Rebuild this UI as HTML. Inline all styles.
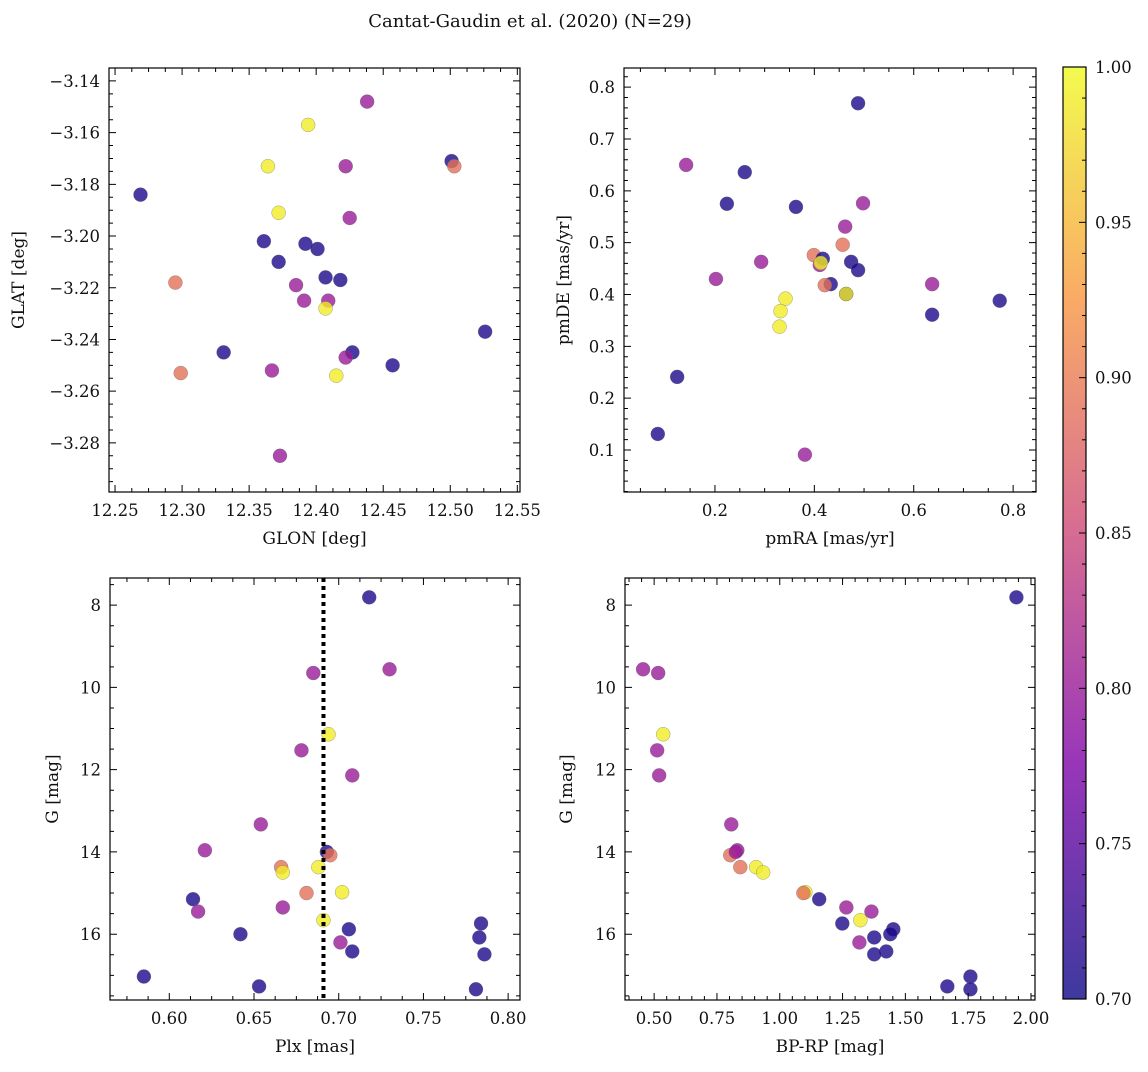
<!DOCTYPE html>
<html><head><meta charset="utf-8"><style>
body{margin:0;background:#fff}
svg text{font-family:"DejaVu Serif","Liberation Serif",serif;fill:#111}
</style></head><body>
<svg id="fig" width="1148" height="1067" xmlns="http://www.w3.org/2000/svg">
<defs>
<linearGradient id="cbg" x1="0" y1="1" x2="0" y2="0">
<stop offset="0" stop-color="#0d0887"/><stop offset="0.25" stop-color="#7e03a8"/><stop offset="0.5" stop-color="#cc4778"/><stop offset="0.75" stop-color="#f89540"/><stop offset="1" stop-color="#f0f921"/>
</linearGradient>
</defs>
<text x="530" y="27" font-size="18" text-anchor="middle">Cantat-Gaudin et al. (2020) (N=29)</text>
</svg>
<script>
// Panel 1: GLON vs GLAT
const p1x=[12.269,12.364,12.394,12.438,12.372,12.422,12.425,12.501,12.503,12.361,12.372,12.392,12.401,12.407,12.418,12.295,12.385,12.391,12.409,12.407,12.526,12.331,12.427,12.422,12.457,12.299,12.367,12.415,12.373];
const p1y=[-3.184,-3.173,-3.157,-3.148,-3.191,-3.173,-3.193,-3.171,-3.173,-3.202,-3.210,-3.203,-3.205,-3.216,-3.217,-3.218,-3.219,-3.225,-3.225,-3.228,-3.237,-3.245,-3.245,-3.247,-3.250,-3.253,-3.252,-3.254,-3.285];
const p1c=[0.71,0.99,0.99,0.80,0.99,0.80,0.80,0.71,0.89,0.71,0.71,0.71,0.71,0.71,0.71,0.89,0.80,0.80,0.80,0.99,0.71,0.71,0.71,0.80,0.71,0.89,0.80,0.99,0.80];
// Panel 2: pmRA vs pmDE
const p2x=[0.142,0.488,0.260,0.224,0.363,0.498,0.462,0.399,0.457,0.411,0.417,0.413,0.293,0.474,0.488,0.202,0.433,0.421,0.464,0.464,0.637,0.773,0.342,0.332,0.330,0.637,0.124,0.085,0.381];
const p2y=[0.650,0.769,0.636,0.575,0.569,0.576,0.531,0.476,0.496,0.457,0.469,0.461,0.463,0.463,0.447,0.430,0.420,0.418,0.401,0.401,0.420,0.388,0.392,0.368,0.338,0.361,0.241,0.131,0.091];
const p2c=[0.80,0.71,0.71,0.71,0.71,0.80,0.80,0.89,0.89,0.80,0.71,0.99,0.80,0.71,0.71,0.80,0.71,0.89,0.71,0.99,0.80,0.71,0.99,0.99,0.99,0.71,0.71,0.71,0.80];
// Panel 3: Plx vs G
const p3x=[0.718,0.730,0.685,0.694,0.678,0.708,0.654,0.621,0.693,0.695,0.688,0.666,0.667,0.702,0.681,0.614,0.667,0.617,0.691,0.784,0.706,0.642,0.783,0.701,0.708,0.786,0.585,0.653,0.781];
const p3y=[7.81,9.56,9.65,11.14,11.53,12.14,13.33,13.96,14.0,14.08,14.37,14.37,14.50,14.98,15.00,15.15,15.35,15.45,15.66,15.74,15.88,16.0,16.08,16.20,16.42,16.49,17.03,17.27,17.34];
const p3c=[0.71,0.80,0.80,0.99,0.80,0.80,0.80,0.80,0.71,0.89,0.99,0.89,0.99,0.99,0.89,0.71,0.80,0.80,0.99,0.71,0.71,0.71,0.71,0.80,0.71,0.71,0.71,0.71,0.71];
const plxLine=0.691;
// Panel 4: BP-RP vs G
const p4x=[1.942,0.456,0.516,0.536,0.512,0.520,0.807,0.831,0.803,0.825,0.906,0.843,0.934,1.102,1.094,1.157,1.265,1.365,1.321,1.249,1.452,1.44,1.376,1.317,1.424,1.376,1.759,1.667,1.759];
const p4y=[7.81,9.56,9.65,11.14,11.53,12.14,13.33,13.96,14.08,14.0,14.37,14.37,14.50,14.98,15.00,15.15,15.35,15.45,15.66,15.74,15.88,16.0,16.08,16.20,16.42,16.49,17.03,17.27,17.34];
const p4c=[0.71,0.80,0.80,0.99,0.80,0.80,0.80,0.80,0.89,0.80,0.99,0.89,0.99,0.99,0.89,0.71,0.80,0.80,0.99,0.71,0.71,0.71,0.71,0.80,0.71,0.71,0.71,0.71,0.71];
const cbTicks=[0.70,0.75,0.80,0.85,0.90,0.95,1.00];

const NS='http://www.w3.org/2000/svg';
const svg=document.getElementById('fig');
function mk(t,a,parent){const e=document.createElementNS(NS,t);for(const k in a)e.setAttribute(k,a[k]);(parent||svg).appendChild(e);return e;}
const stops=[[0,[13,8,135]],[0.25,[126,3,168]],[0.5,[204,71,120]],[0.75,[248,149,64]],[1,[240,249,33]]];
function plasma(v){let t=(v-0.7)/0.3;t=Math.max(0,Math.min(1,t));for(let i=0;i<4;i++){const a=stops[i],b=stops[i+1];if(t<=b[0]){const f=(t-a[0])/(b[0]-a[0]);return 'rgb('+a[1].map((c,j)=>Math.round(c+(b[1][j]-c)*f)).join(',')+')';}}return 'rgb(240,249,33)';}

function panel(o){
  const g=mk('g',{});
  
  
  const sx=v=>o.L+(v-o.x0)/(o.x1-o.x0)*(o.R-o.L);
  const sy=v=>o.B-(v-o.y0)/(o.y1-o.y0)*(o.B-o.T);
  for(let i=0;i<o.xs.length;i++){
    const c=mk('circle',{cx:sx(o.xs[i]),cy:sy(o.ys[i]),r:7,fill:plasma(o.cs[i]),'fill-opacity':0.8,stroke:'#666','stroke-width':0.5,'stroke-opacity':0.6},g);
    
    
  }
  if(o.vline!==undefined){
    const l=mk('line',{x1:sx(o.vline),x2:sx(o.vline),y1:o.T,y2:o.B,stroke:'#000','stroke-width':4,'stroke-dasharray':'4,4'},g);
    
    
  }
  const top=Math.min(o.T,o.B),bot=Math.max(o.T,o.B);
  const f=mk('rect',{x:o.L,y:top,width:o.R-o.L,height:bot-top,fill:'none',stroke:'#000','stroke-width':1.2},g);
  
  
  const xlo=Math.min(o.x0,o.x1),xhi=Math.max(o.x0,o.x1);
  for(let k=Math.ceil(xlo/o.xmin-1e-6);k*o.xmin<=xhi+1e-9;k++){
    const v=k*o.xmin,x=sx(v);const maj=Math.abs(v/o.xmaj-Math.round(v/o.xmaj))<1e-6;const len=maj?7:4;
    mk('path',{d:`M${x},${bot}v${-len}M${x},${top}v${len}`,stroke:'#000','stroke-width':1},g);
    if(maj){const t=mk('text',{x:x,y:bot+24,'font-size':16.5,'text-anchor':'middle'},g);t.textContent=v.toFixed(o.xd);
      }
  }
  const ylo=Math.min(o.y0,o.y1),yhi=Math.max(o.y0,o.y1);
  for(let k=Math.ceil(ylo/o.ymin-1e-6);k*o.ymin<=yhi+1e-9;k++){
    const v=k*o.ymin,y=sy(v);const maj=Math.abs(v/o.ymaj-Math.round(v/o.ymaj))<1e-6;const len=maj?7:4;
    mk('path',{d:`M${o.L},${y}h${len}M${o.R},${y}h${-len}`,stroke:'#000','stroke-width':1},g);
    if(maj){const t=mk('text',{x:o.L-9,y:y+6,'font-size':16.5,'text-anchor':'end'},g);t.textContent=(v<0?'\u2212':'')+Math.abs(v).toFixed(o.yd);
      }
  }
  const xl=mk('text',{x:(o.L+o.R)/2,y:bot+52,'font-size':17,'text-anchor':'middle'},g);xl.textContent=o.xlab;
  
  const cy=(top+bot)/2;
  const yl=mk('text',{x:o.ylx,y:cy,'font-size':17,'text-anchor':'middle',transform:`rotate(-90 ${o.ylx} ${cy})`},g);yl.textContent=o.ylab;
  
}
panel({name:'glon-glat-panel',L:109,R:520,T:68,B:492,x0:12.2455,x1:12.552,y0:-3.299,y1:-3.135,xs:p1x,ys:p1y,cs:p1c,xmaj:0.05,xmin:0.0125,ymaj:0.02,ymin:0.005,xd:2,yd:2,xlab:'GLON [deg]',ylab:'GLAT [deg]',ylx:24});
panel({name:'pmra-pmde-panel',L:624,R:1036,T:68,B:492,x0:0.017,x1:0.846,y0:0.019,y1:0.837,xs:p2x,ys:p2y,cs:p2c,xmaj:0.2,xmin:0.05,ymaj:0.1,ymin:0.02,xd:1,yd:1,xlab:'pmRA [mas/yr]',ylab:'pmDE [mas/yr]',ylx:569});
panel({name:'plx-g-panel',L:110,R:520,T:578,B:1000,x0:0.565,x1:0.807,y0:17.6,y1:7.34,xs:p3x,ys:p3y,cs:p3c,xmaj:0.05,xmin:0.0125,ymaj:2,ymin:0.5,xd:2,yd:0,xlab:'Plx [mas]',ylab:'G [mag]',ylx:58,vline:plxLine});
panel({name:'bprp-g-panel',L:625,R:1035,T:578,B:1000,x0:0.384,x1:2.016,y0:17.6,y1:7.34,xs:p4x,ys:p4y,cs:p4c,xmaj:0.25,xmin:0.05,ymaj:2,ymin:0.5,xd:2,yd:0,xlab:'BP-RP [mag]',ylab:'G [mag]',ylx:572});

const cb=mk('g',{});


const cT=67,cB=999,cL=1063,cR=1086;
mk('rect',{x:cL,y:cT,width:cR-cL,height:cB-cT,fill:'url(#cbg)','fill-opacity':0.8},cb);
mk('rect',{x:cL,y:cT,width:cR-cL,height:cB-cT,fill:'none',stroke:'#000','stroke-width':1.2},cb);
const cs=v=>cB-(v-0.7)/0.3*(cB-cT);
for(let k=0;k<=30;k++){const v=0.7+k*0.01;const y=cs(v);const maj=k%5===0;
  mk('path',{d:`M${cR},${y}h${maj?-7:-4}`,stroke:'#000','stroke-width':1},cb);}
cbTicks.forEach(v=>{const t=mk('text',{x:cR+9,y:cs(v)+6,'font-size':16.5},cb);t.textContent=v.toFixed(2);
  });
</script>
</body></html>
